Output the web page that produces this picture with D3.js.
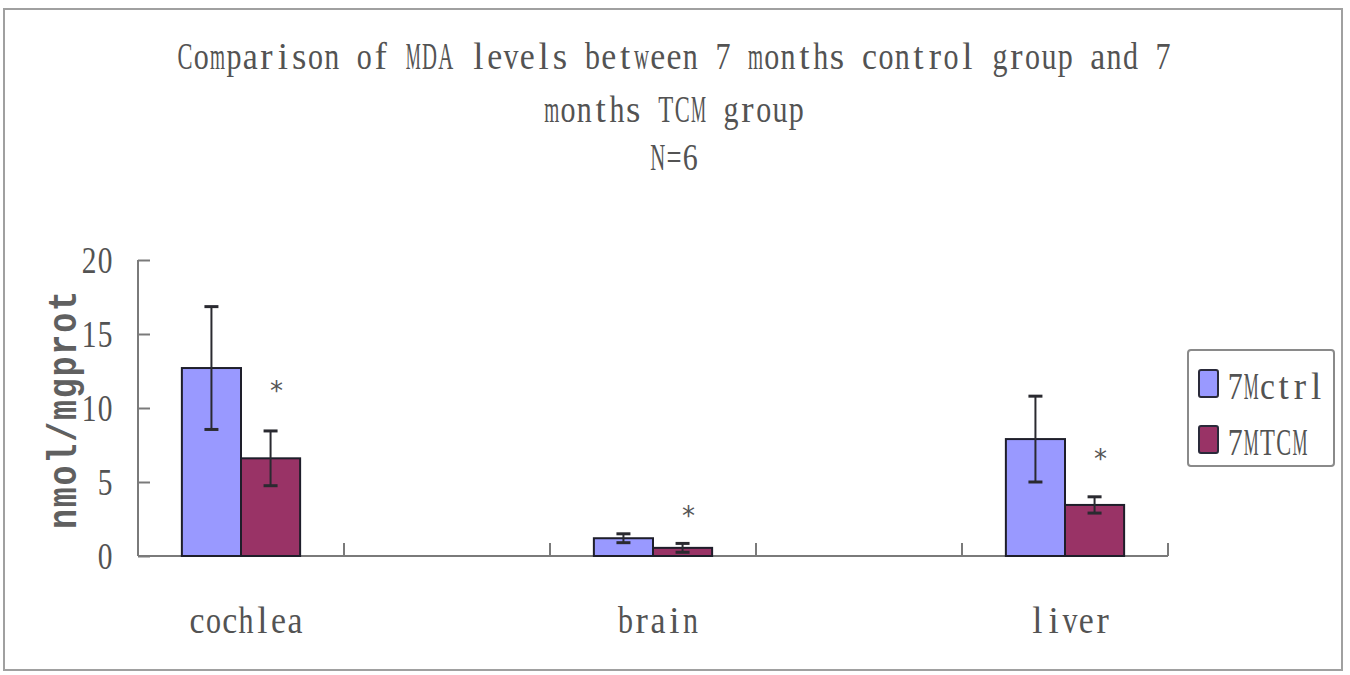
<!DOCTYPE html>
<html>
<head>
<meta charset="utf-8">
<script src="https://cdn.jsdelivr.net/npm/d3@7"></script>
<style>
  html, body { margin: 0; padding: 0; background: #fff; }
  svg { display: block; }
</style>
</head>
<body>
<svg id="chart" width="1350" height="675"></svg>
<script>
// MDA levels (nmol/mgprot), mean and SD per tissue, N=6
const categories = ["cochlea", "brain", "liver"];
const seriesNames = ["7Mctrl", "7MTCM"];
const ctrlMean = [12.7, 1.2, 7.9];
const ctrlSD   = [4.15, 0.3, 2.9];
const tcmMean  = [6.6, 0.55, 3.45];
const tcmSD    = [1.85, 0.3, 0.55];
// height (in axis units) at which the significance asterisk sits
const sigMarkY = [11.4, 3.0, 6.8];
const yTicks = [0, 5, 10, 15, 20];
const titleLines = [
  "Comparison of MDA levels between 7 months control group and 7",
  "months TCM group",
  "N=6"
];
const colors = ["#9999ff", "#993366"];

const svg = d3.select("#chart");
const FONT = "'Liberation Serif', 'DejaVu Serif', serif";
const TEXT_COLOR = "#535353";

// Half-width grid text: every character sits centred in a cell of fixed width,
// glyphs wider than the cell are narrowed to fit.
function gridText(parent, str, opt) {
  const adv = opt.adv;
  const total = str.length * adv;
  let x0 = opt.x;
  if (opt.anchor === "middle") x0 = opt.x - total / 2;
  else if (opt.anchor === "end") x0 = opt.x - total;
  const g = parent.append("g").attr("class", "gridtext");
  if (opt.transform) g.attr("transform", opt.transform);
  const t = g.append("text")
    .attr("y", opt.y)
    .attr("font-family", opt.family || FONT)
    .attr("font-size", opt.size)
    .attr("font-weight", opt.weight || "normal")
    .attr("fill", opt.fill || TEXT_COLOR)
    .attr("text-anchor", "middle")
    .style("white-space", "pre");
  const maxW = adv * 0.92;
  Array.from(str).forEach((ch, k) => {
    const ts = t.append("tspan")
      .attr("x", x0 + k * adv + adv / 2)
      .text(ch);
    if (ch === " ") return;
    const w = ts.node().getComputedTextLength();
    if (w > maxW) {
      ts.attr("textLength", maxW).attr("lengthAdjust", "spacingAndGlyphs");
    }
  });
  return g;
}

// outer frame
svg.append("rect")
  .attr("x", 4).attr("y", 9).attr("width", 1338).attr("height", 661)
  .attr("fill", "none").attr("stroke", "#a0a0a0").attr("stroke-width", 2);

// title
const titleBase = [69, 122, 170];
titleLines.forEach((line, i) => {
  gridText(svg, line, { x: 674, y: titleBase[i], size: 37, adv: 16.3, anchor: "middle" });
});

// plot area
const plot = { left: 138, right: 1168, top: 260, bottom: 556 };
const nSlots = categories.length * 2 - 1; // each tissue separated by an empty slot
const slotScale = d3.scaleBand()
  .domain(d3.range(nSlots))
  .range([plot.left, plot.right])
  .paddingInner(0).paddingOuter(0);
const slotOf = i => i * 2;

const y = d3.scaleLinear().domain([0, 20]).range([plot.bottom, plot.top]);

const barW = slotScale.bandwidth() * 0.287;
const series = [
  { name: seriesNames[0], mean: ctrlMean, sd: ctrlSD, color: colors[0] },
  { name: seriesNames[1], mean: tcmMean,  sd: tcmSD,  color: colors[1] }
];

const axisColor = "#7a7a7a";

// y axis (ticks pointing into the plot)
const yAxis = d3.axisRight(y).tickValues(yTicks).tickSize(12).tickFormat("");
const gy = svg.append("g").attr("transform", `translate(${plot.left},0)`).call(yAxis);
gy.select(".domain").remove();
gy.selectAll(".tick line").attr("stroke", axisColor).attr("stroke-width", 2);
svg.append("line")
  .attr("x1", plot.left).attr("x2", plot.left)
  .attr("y1", y(20)).attr("y2", plot.bottom)
  .attr("stroke", axisColor).attr("stroke-width", 2);

yTicks.forEach(v => {
  gridText(svg, String(v), { x: 113, y: y(v) + 13, size: 38, adv: 16, anchor: "end" });
});

// y axis title
gridText(svg, "nmol/mgprot", {
  x: 0, y: 0, size: 40, adv: 21.8, anchor: "middle", weight: "bold",
  family: "'Liberation Mono', 'DejaVu Sans Mono', monospace", fill: "#606060",
  transform: `translate(76,410) rotate(-90)`
});

// x axis with boundary ticks pointing upward
svg.append("line")
  .attr("x1", plot.left).attr("x2", plot.right)
  .attr("y1", plot.bottom).attr("y2", plot.bottom)
  .attr("stroke", axisColor).attr("stroke-width", 2);
const boundaries = d3.range(nSlots).map(k => slotScale(k) + slotScale.bandwidth());
svg.selectAll("line.xtick").data(boundaries).enter().append("line")
  .attr("class", "xtick")
  .attr("x1", d => d).attr("x2", d => d)
  .attr("y1", plot.bottom).attr("y2", plot.bottom - 13)
  .attr("stroke", axisColor).attr("stroke-width", 2);

// category labels
categories.forEach((c, i) => {
  const cx = slotScale(slotOf(i)) + slotScale.bandwidth() / 2 + 5;
  gridText(svg, c, { x: cx, y: 633, size: 37, adv: 16.3, anchor: "middle" });
});

// bars
const gBars = svg.append("g");
series.forEach((s, si) => {
  categories.forEach((c, i) => {
    const center = slotScale(slotOf(i)) + slotScale.bandwidth() / 2;
    const x0 = center - barW + si * barW;
    gBars.append("rect")
      .attr("x", x0).attr("y", y(s.mean[i]))
      .attr("width", barW).attr("height", y(0) - y(s.mean[i]))
      .attr("fill", s.color)
      .attr("stroke", "#1e1e2a").attr("stroke-width", 2);
  });
});

// error bars
const errColor = "#2a2a30";
series.forEach((s, si) => {
  categories.forEach((c, i) => {
    const center = slotScale(slotOf(i)) + slotScale.bandwidth() / 2;
    const cx = center - barW / 2 + si * barW;
    const hi = y(s.mean[i] + s.sd[i]);
    const lo = y(s.mean[i] - s.sd[i]);
    const cap = 7;
    gBars.append("line").attr("x1", cx).attr("x2", cx).attr("y1", hi).attr("y2", lo)
      .attr("stroke", errColor).attr("stroke-width", 2);
    [hi, lo].forEach(yy => {
      gBars.append("line").attr("x1", cx - cap).attr("x2", cx + cap).attr("y1", yy).attr("y2", yy)
        .attr("stroke", errColor).attr("stroke-width", 3);
    });
  });
});

// significance asterisks over the TCM bars
categories.forEach((c, i) => {
  const center = slotScale(slotOf(i)) + slotScale.bandwidth() / 2;
  const cx = center + barW / 2 + 6;
  svg.append("text")
    .attr("x", cx).attr("y", y(sigMarkY[i]) + 13)
    .attr("font-family", "'DejaVu Sans', sans-serif")
    .attr("font-size", 26)
    .attr("fill", "#555")
    .attr("text-anchor", "middle")
    .text("*");
});

// legend
const lg = svg.append("g");
lg.append("rect")
  .attr("x", 1188).attr("y", 350).attr("width", 146).attr("height", 116)
  .attr("rx", 3)
  .attr("fill", "#fff").attr("stroke", "#8a8a8a").attr("stroke-width", 2);
const legendRows = [370, 426];
series.forEach((s, si) => {
  lg.append("rect")
    .attr("x", 1199).attr("y", legendRows[si]).attr("width", 19).attr("height", 27)
    .attr("rx", 2)
    .attr("fill", s.color).attr("stroke", "#2a2a3a").attr("stroke-width", 2);
  gridText(lg, s.name, { x: 1227, y: legendRows[si] + 29, size: 37, adv: 16.2 });
});
</script>
</body>
</html>
